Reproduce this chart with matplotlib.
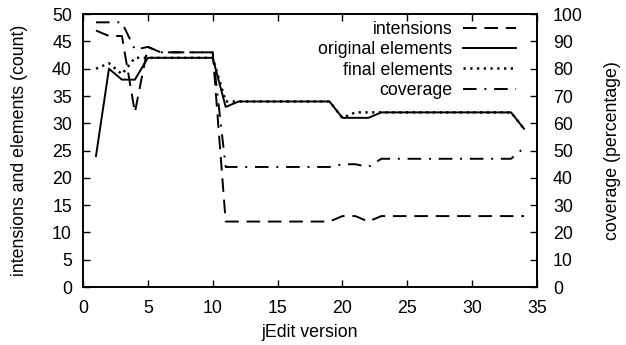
import numpy as np
import matplotlib
matplotlib.use("Agg")
import matplotlib.pyplot as plt

plt.rcParams['font.family'] = ['Liberation Sans', 'DejaVu Sans']
plt.rcParams['font.size'] = 12.8

versions = list(range(1, 35))
intensions = [47, 46, 46, 32, 44, 43, 43, 43, 43, 43,
              12, 12, 12, 12, 12, 12, 12, 12, 12, 13, 13, 12,
              13, 13, 13, 13, 13, 13, 13, 13, 13, 13, 13, 13]
original = [24, 40, 38, 38, 42, 42, 42, 42, 42, 42,
            33, 34, 34, 34, 34, 34, 34, 34, 34, 31, 31, 31,
            32, 32, 32, 32, 32, 32, 32, 32, 32, 32, 32, 29]
final = [40, 41, 39, 42, 42, 42, 42, 42, 42, 42,
         34, 34, 34, 34, 34, 34, 34, 34, 34, 31, 32, 32,
         32, 32, 32, 32, 32, 32, 32, 32, 32, 32, 32, 29]
coverage = [97, 97, 97, 87, 88, 86, 86, 86, 86, 86,
            44, 44, 44, 44, 44, 44, 44, 44, 44, 45, 45, 44,
            47, 47, 47, 47, 47, 47, 47, 47, 47, 47, 47, 51]

fig = plt.figure(figsize=(6.26, 3.45), dpi=100)
ax = fig.add_axes([0.1326, 0.168, 0.7252, 0.791])
ax2 = ax.twinx()

lw = 1.4
l1, = ax.plot(versions, intensions, color='black', lw=lw, dashes=(7, 4), label='intensions')
l2, = ax.plot(versions, original, color='black', lw=lw, label='original elements')
l3, = ax.plot(versions, final, color='black', lw=1.8, dashes=(0.9, 1.8), label='final elements')
l4, = ax2.plot(versions, coverage, color='black', lw=lw, dashes=(7, 4, 1, 4), label='coverage')

ax.set_xlim(0, 35)
ax.set_ylim(0, 50)
ax2.set_ylim(0, 100)
ax.set_xticks(np.arange(0, 36, 5))
ax.set_yticks(np.arange(0, 51, 5))
ax2.set_yticks(np.arange(0, 101, 10))

ax.set_xlabel('jEdit version')
ax.set_ylabel('intensions and elements (count)')
ax2.set_ylabel('coverage (percentage)')
ax.xaxis.set_label_coords(0.5, -0.135)
ax.yaxis.set_label_coords(-0.121, 0.5)
ax2.yaxis.set_label_coords(1.148, 0.5)

ax.tick_params(axis='x', direction='in', top=True, length=5, width=1, pad=9)
ax.tick_params(axis='y', direction='in', right=False, length=5, width=1, pad=8)
ax2.tick_params(axis='y', direction='in', length=5, width=1, pad=11.5)
for a in (ax, ax2):
    for s in a.spines.values():
        s.set_linewidth(1.2)

ax.legend([l1, l2, l3, l4], ['intensions', 'original elements', 'final elements', 'coverage'],
          loc='upper right', frameon=False, markerfirst=False, handlelength=3.0,
          labelspacing=0.18, borderaxespad=0.0, handletextpad=0.6,
          bbox_to_anchor=(0.97, 1.0))

fig.savefig('out.png', dpi=100)
